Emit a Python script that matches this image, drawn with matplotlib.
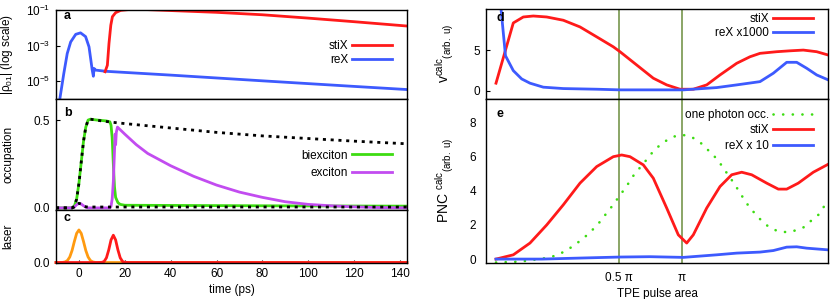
import matplotlib
matplotlib.use('Agg')
import matplotlib.pyplot as plt
import numpy as np

plt.rcParams['font.family'] = ['Liberation Sans', 'DejaVu Sans']
plt.rcParams['font.size'] = 8.5
plt.rcParams['mathtext.fontset'] = 'custom'
plt.rcParams['mathtext.rm'] = 'Liberation Sans'
plt.rcParams['mathtext.it'] = 'Liberation Sans:italic'
plt.rcParams['mathtext.bf'] = 'Liberation Sans:bold'
plt.rcParams['mathtext.default'] = 'regular'
plt.rcParams['axes.linewidth'] = 1.0

# Panel a: |rho_01| (log scale)
t_rex = [-9.0, -8.3, -6.6, -5.1, -3.6, -1.4, 0.7, 2.9, 4.4, 5.1, 5.8, 6.3, 6.6, 7.3, 11.7, 40, 80, 120, 143]
p_rex = [2e-7, 1.07e-6, 2.7e-5, 3.6e-4, 1.6e-3, 4.3e-3, 5.2e-3, 3.2e-3, 8.5e-4, 1.9e-4, 4.2e-5, 1.9e-5,
         5.2e-5, 4.2e-5, 3.6e-5, 2.2e-5, 1.05e-5, 5.1e-6, 3.4e-6]
t_stix = [11.4, 12.4, 13.1, 13.9, 14.6, 16.0, 18.2, 22, 30, 40, 60, 80, 100, 120, 143]
p_stix = [3.4e-5, 7.9e-5, 1.3e-3, 1.4e-2, 4.2e-2, 7.1e-2, 9.5e-2, 0.107, 0.105, 0.093, 0.074, 0.054,
          0.035, 0.022, 0.0126]

# Panel b: occupations
t_bx = [-10, -3, -2, -1, 0, 1, 2, 3, 4, 5, 8, 12, 13.5, 14, 14.5, 15, 15.5, 16, 17, 18, 20, 60, 100, 143]
occ_bx = [0, 0, 0.01, 0.05, 0.14, 0.26, 0.38, 0.46, 0.5, 0.505, 0.5, 0.495, 0.49, 0.47, 0.4, 0.25,
          0.12, 0.06, 0.03, 0.02, 0.015, 0.013, 0.011, 0.01]
t_x = [-10, -3, -2, -1, 0, 1, 2, 3, 4, 13.5, 14, 14.5, 15, 15.5, 15.8, 16.0, 16.3, 16.8, 18, 20, 25,
       30, 40, 50, 60, 70, 80, 90, 100, 110, 120, 130, 143]
occ_x = [0, 0, 0.005, 0.018, 0.026, 0.022, 0.012, 0.004, 0, 0, 0.01, 0.05, 0.15, 0.32, 0.42, 0.36,
         0.43, 0.46, 0.445, 0.42, 0.36, 0.31, 0.24, 0.18, 0.13, 0.09, 0.06, 0.035, 0.02, 0.012, 0.006,
         0.002, 0.0]
t_ref = [-10, -3, -2, -1, 0, 1, 2, 3, 4, 5, 10, 15, 20, 40, 60, 80, 100, 120, 143]
occ_bx_ref = [0, 0, 0.01, 0.05, 0.14, 0.26, 0.38, 0.46, 0.5, 0.505, 0.495, 0.487, 0.48, 0.455, 0.43,
              0.41, 0.395, 0.38, 0.365]
occ_x_ref = [0, 0, 0.005, 0.018, 0.026, 0.022, 0.012, 0.006, 0.005, 0.005, 0.005, 0.005, 0.005, 0.005,
             0.005, 0.005, 0.005, 0.005, 0.005]

# Panel c: laser pulses
t_laser = [-10, -8, -7, -6, -5, -4, -3, -2, -1, 0, 1, 2, 3, 4, 5, 6, 7, 8, 10, 11, 12, 13, 14, 15,
           16, 17, 18, 19, 20, 22, 143]
laser_tpe = [0, 0, 0.003, 0.012, 0.038, 0.105, 0.228, 0.40, 0.555, 0.62, 0.555, 0.40, 0.228, 0.105,
             0.038, 0.012, 0.003, 0, 0, 0, 0, 0, 0, 0, 0, 0, 0, 0, 0, 0, 0]
laser_stim = [0, 0, 0, 0, 0, 0, 0, 0, 0, 0, 0, 0, 0, 0, 0, 0, 0, 0, 0.003, 0.02, 0.09, 0.24, 0.43,
              0.52, 0.43, 0.24, 0.09, 0.02, 0.003, 0, 0]

# Panel d: v^calc vs pulse area (arbitrary amplitude units)
a_d_stix = [0.0, 1.73, 2.73, 3.73, 5.07, 6.73, 8.4, 10.07, 11.73, 12.4, 14.07, 15.73, 17.07, 18.4,
            19.73, 21.07, 22.4, 24.07, 25.4, 26.4, 28.07, 29.4, 30.73, 32.07, 33.23]
v_stix = [0.94, 8.33, 9.06, 9.18, 9.06, 8.66, 7.84, 6.62, 5.4, 4.8, 3.17, 1.55, 0.73, 0.2, 0.2, 0.73,
          1.95, 3.38, 4.18, 4.6, 4.8, 4.91, 5.0, 4.8, 4.39]
a_d_rex = [0.0, 0.95, 1.73, 2.57, 3.4, 4.73, 6.73, 10.07, 12.4, 15.4, 18.73, 22.07, 24.07, 26.4, 27.73,
           29.07, 30.07, 31.07, 32.07, 33.23]
v_rex = [16.5, 4.3, 2.48, 1.46, 0.94, 0.45, 0.28, 0.2, 0.12, 0.12, 0.12, 0.4, 0.73, 1.13, 2.16, 3.5,
         3.5, 2.77, 1.95, 1.34]

# Panel e: PNC^calc
a_e_stix = [0.0, 1.73, 3.4, 5.07, 6.73, 8.4, 10.07, 11.73, 12.57, 13.4, 14.73, 15.73, 17.07, 18.23,
            19.07, 19.73, 21.07, 22.4, 23.57, 24.57, 25.57, 27.07, 28.23, 29.07, 30.23, 31.73, 33.23]
pnc_stix = [0.0, 0.25, 0.94, 2.0, 3.18, 4.45, 5.42, 6.0, 6.1, 6.0, 5.52, 4.74, 2.99, 1.42, 0.94, 1.42,
            2.99, 4.25, 4.94, 5.09, 4.94, 4.45, 4.1, 4.1, 4.45, 5.09, 5.56]
a_e_phot = [0.0, 2.4, 4.57, 5.5, 6.33, 7.13, 7.9, 8.67, 9.33, 9.97, 10.57, 11.17, 11.73, 12.23, 12.8,
            13.33, 13.8, 14.4, 14.97, 15.57, 16.23, 17.0, 17.8, 18.63, 19.47, 20.33, 21.0, 21.73, 22.4,
            23.07, 23.73, 24.33, 24.9, 25.4, 26.0, 26.57, 27.23, 28.07, 29.0, 29.9, 30.73, 31.5, 32.23,
            32.8, 33.23]
one_photon = [-0.2, -0.15, 0.02, 0.12, 0.29, 0.54, 0.84, 1.19, 1.52, 1.91, 2.3, 2.79, 3.18, 3.61, 4.06,
              4.51, 4.94, 5.36, 5.76, 6.2, 6.59, 6.93, 7.18, 7.28, 7.18, 6.89, 6.5, 6.1, 5.62, 5.05,
              4.5, 3.95, 3.41, 3.0, 2.6, 2.24, 1.91, 1.66, 1.58, 1.67, 1.85, 2.24, 2.59, 3.08, 3.3]
a_e_rex = [0.0, 4.57, 8.4, 12.4, 15.4, 18.73, 22.07, 24.07, 26.4, 27.73, 29.07, 30.07, 31.07, 33.23]
pnc_rex = [0.0, 0.0, 0.06, 0.12, 0.14, 0.1, 0.25, 0.35, 0.41, 0.5, 0.7, 0.72, 0.64, 0.54]

area_ticks = [12.33, 18.57]
area_labels = ['0.5 π', 'π']

RED = '#ff1a1a'
BLUE = '#3d5afe'
GREEN = '#3ddc12'
PURPLE = '#c24cf0'
ORANGE = '#ff9a10'
OLIVE = '#8aa566'
LW = 2.0

fig = plt.figure(figsize=(8.3, 2.99), dpi=100)
W, H = 830.0, 299.0

def add_ax(x0, x1, top, bottom):
    return fig.add_axes([x0 / W, 1 - bottom / H, (x1 - x0) / W, (bottom - top) / H])

ax_a = add_ax(56, 407.3, 10, 99)
ax_b = add_ax(56, 407.3, 99, 210)
ax_c = add_ax(56, 407.3, 210, 262.5)
ax_d = add_ax(486, 828.3, 8.5, 99)
ax_e = add_ax(486, 828.3, 99, 262.5)

for ax in (ax_a, ax_b, ax_c, ax_d, ax_e):
    ax.tick_params(direction='in', length=3, width=0.8, left=True, bottom=False, top=False,
                   right=False, labelbottom=False, pad=4)

leg_kw = dict(frameon=False, markerfirst=False, loc='upper right', borderpad=0, borderaxespad=0,
              handlelength=3.4, handletextpad=0.3, fontsize=8.5)

# a
ax_a.semilogy(t_rex, p_rex, color=BLUE, lw=LW, label='reX')
ax_a.semilogy(t_stix, p_stix, color=RED, lw=LW, label='stiX')
ax_a.set_xlim(-10, 143.2)
ax_a.set_ylim(1e-6, 1e-1)
ax_a.set_yticks([1e-5, 1e-3, 1e-1])
ax_a.set_yticklabels([r'$10^{-5}$', r'$10^{-3}$', r'$10^{-1}$'])
ax_a.yaxis.set_minor_locator(matplotlib.ticker.NullLocator())
ax_a.set_ylabel(r'|ρ$_{01}$| (log scale)')
h, l = ax_a.get_legend_handles_labels()
ax_a.legend(h[::-1], l[::-1], bbox_to_anchor=(0.956, 0.66), labelspacing=0.15, **leg_kw)

# b
ax_b.plot(t_bx, occ_bx, color=GREEN, lw=LW, label='biexciton')
ax_b.plot(t_x, occ_x, color=PURPLE, lw=LW, label='exciton')
ax_b.plot(t_ref, occ_bx_ref, color='black', lw=2.0, dashes=(1.1, 1.7))
ax_b.plot(t_ref, occ_x_ref, color='black', lw=2.0, dashes=(1.1, 1.7))
ax_b.set_xlim(-10, 143.2)
ax_b.set_ylim(-0.012, 0.62)
ax_b.set_yticks([0.0, 0.5])
ax_b.set_yticklabels(['0.0', '0.5'])
ax_b.set_ylabel('occupation')
ax_b.legend(bbox_to_anchor=(0.956, 0.545), labelspacing=0.45, **leg_kw)

# c
ax_c.plot(t_laser, laser_tpe, color=ORANGE, lw=LW, clip_on=False)
ax_c.plot(t_laser, laser_stim, color=RED, lw=LW, clip_on=False)
ax_c.set_xlim(-10, 143.2)
ax_c.set_ylim(0, 1)
ax_c.set_yticks([0.0])
ax_c.set_yticklabels(['0.0'])
ax_c.set_ylabel('laser')
ax_c.set_xticks(np.arange(0, 141, 20))
ax_c.tick_params(bottom=True, labelbottom=True, length=2)
ax_c.set_xlabel('time (ps)', labelpad=3)

for ax in (ax_a, ax_b, ax_c):
    ax.yaxis.set_label_coords(-0.118, 0.5)

# d
for a in area_ticks:
    ax_d.axvline(a, color=OLIVE, lw=1.4, zorder=1)
    ax_e.axvline(a, color=OLIVE, lw=1.4, zorder=1)
ax_d.plot(a_d_stix, v_stix, color=RED, lw=LW, label='stiX')
ax_d.plot(a_d_rex, v_rex, color=BLUE, lw=LW, label='reX x1000')
ax_d.set_xlim(-1.0, 33.23)
ax_d.set_ylim(-1, 10.1)
ax_d.set_yticks([0, 5])
ax_d.set_ylabel(r'v$^{calc}{}_{(arb.\ u)}$', fontsize=10)
ax_d.legend(bbox_to_anchor=(0.955, 0.945), labelspacing=0.15, **leg_kw)

# e
ax_e.plot(a_e_phot, one_photon, color=GREEN, lw=1.9, dashes=(0.05, 3.6), dash_capstyle='round',
          label='one photon occ.')
ax_e.plot(a_e_stix, pnc_stix, color=RED, lw=LW, label='stiX')
ax_e.plot(a_e_rex, pnc_rex, color=BLUE, lw=LW, label='reX x 10')
ax_e.set_xlim(-1.0, 33.23)
ax_e.set_ylim(-0.2, 9.38)
ax_e.set_yticks([0, 2, 4, 6, 8])
ax_e.set_ylabel(r'PNC $^{calc}{}_{(arb.\ u)}$', fontsize=10)
ax_e.set_xticks(area_ticks)
ax_e.set_xticklabels(area_labels)
ax_e.tick_params(bottom=True, labelbottom=True, length=0, pad=7)
ax_e.set_xlabel('TPE pulse area', labelpad=3)
ax_e.legend(bbox_to_anchor=(0.955, 0.94), labelspacing=0.3, **leg_kw)

for ax in (ax_d, ax_e):
    ax.yaxis.set_label_coords(-0.088, 0.5)

for ax, lab, y in ((ax_a, 'a', 0.93), (ax_b, 'b', 0.875), (ax_c, 'c', 0.84),
                   (ax_d, 'd', 0.89), (ax_e, 'e', 0.91)):
    ax.text(0.022 if ax in (ax_a, ax_b, ax_c) else 0.03, y, lab, transform=ax.transAxes,
            fontweight='bold', fontsize=9, ha='left', va='center')

fig.savefig('out.png', dpi=100)
